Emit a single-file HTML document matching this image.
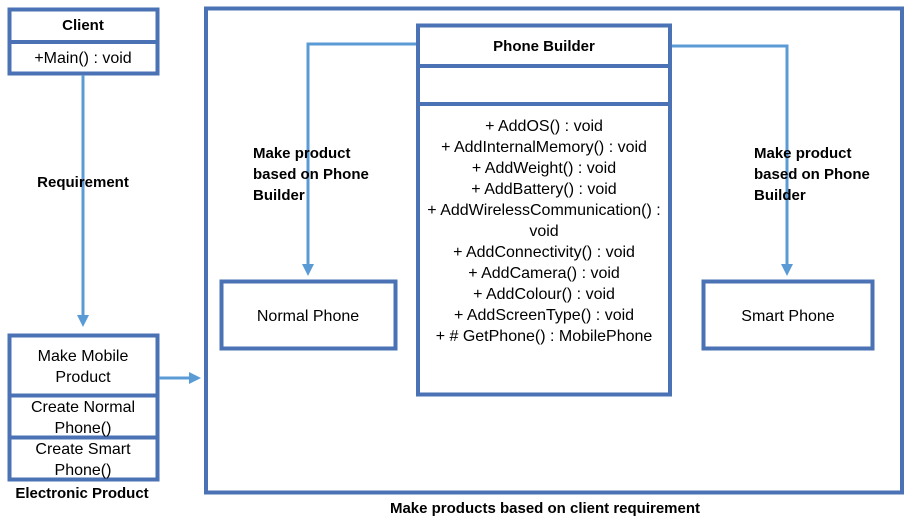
<!DOCTYPE html>
<html><head><meta charset="utf-8"><style>
html,body{margin:0;padding:0;background:#fff;}
svg{display:block;}
text{font-family:"Liberation Sans",sans-serif;fill:#000;}
.b{font-weight:bold;font-size:15px;}
.r{font-size:16px;}
</style></head><body>
<svg width="914" height="522" viewBox="0 0 914 522" xmlns="http://www.w3.org/2000/svg">
<defs>
<marker id="ah" markerWidth="4" markerHeight="4" refX="3" refY="2" orient="auto" markerUnits="strokeWidth">
<path d="M0,0 L4,2 L0,4 z" fill="#5b9bd5"/>
</marker>
</defs>
<g fill="none" stroke="#4a72b5" stroke-width="4">
<rect x="9.5" y="9.5" width="148" height="64"/>
<line x1="9.5" y1="42" x2="157.5" y2="42"/>
<rect x="206" y="8.5" width="696" height="484"/>
<rect x="418" y="25.5" width="252" height="369"/>
<line x1="418" y1="66" x2="670" y2="66"/>
<line x1="418" y1="104" x2="670" y2="104"/>
<rect x="221.5" y="281.5" width="174" height="67"/>
<rect x="703.5" y="281.5" width="169" height="67"/>
<rect x="9.5" y="335.5" width="148" height="144"/>
<line x1="9.5" y1="395.5" x2="157.5" y2="395.5"/>
<line x1="9.5" y1="437.5" x2="157.5" y2="437.5"/>
</g>
<g fill="none" stroke="#5b9bd5" stroke-width="3">
<line x1="83" y1="75" x2="83" y2="324" marker-end="url(#ah)"/>
<polyline points="416,44 308,44 308,273" marker-end="url(#ah)"/>
<polyline points="672,46 787,46 787,273" marker-end="url(#ah)"/>
<line x1="159" y1="378" x2="198" y2="378" marker-end="url(#ah)"/>
</g>
<text class="b" x="83" y="30" text-anchor="middle">Client</text>
<text class="r" x="83" y="63" text-anchor="middle">+Main() : void</text>
<text class="b" x="83" y="187" text-anchor="middle">Requirement</text>
<text class="b" x="253" y="158">Make product</text>
<text class="b" x="253" y="179">based on Phone</text>
<text class="b" x="253" y="200">Builder</text>
<text class="b" x="754" y="158">Make product</text>
<text class="b" x="754" y="179">based on Phone</text>
<text class="b" x="754" y="200">Builder</text>
<text class="b" x="544" y="51" text-anchor="middle">Phone Builder</text>
<g class="r" text-anchor="middle">
<text x="544" y="131">+ AddOS() : void</text>
<text x="544" y="152">+ AddInternalMemory() : void</text>
<text x="544" y="173">+ AddWeight() : void</text>
<text x="544" y="194">+ AddBattery() : void</text>
<text x="544" y="215">+ AddWirelessCommunication() :</text>
<text x="544" y="236">void</text>
<text x="544" y="257">+ AddConnectivity() : void</text>
<text x="544" y="278">+ AddCamera() : void</text>
<text x="544" y="299">+ AddColour() : void</text>
<text x="544" y="320">+ AddScreenType() : void</text>
<text x="544" y="341">+ # GetPhone() : MobilePhone</text>
</g>
<text class="r" x="308" y="321" text-anchor="middle">Normal Phone</text>
<text class="r" x="788" y="321" text-anchor="middle">Smart Phone</text>
<g class="r" text-anchor="middle">
<text x="83" y="361">Make Mobile</text>
<text x="83" y="382">Product</text>
<text x="83" y="412">Create Normal</text>
<text x="83" y="433">Phone()</text>
<text x="83" y="454">Create Smart</text>
<text x="83" y="475">Phone()</text>
</g>
<text class="b" x="82" y="498" text-anchor="middle">Electronic Product</text>
<text class="b" x="545" y="513" text-anchor="middle">Make products based on client requirement</text>
</svg>
</body></html>
